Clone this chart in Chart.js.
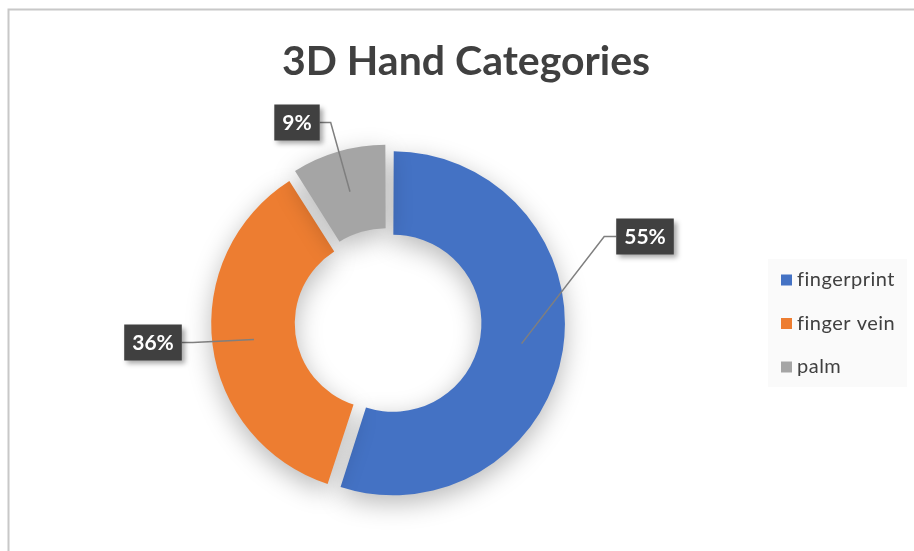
<!DOCTYPE html>
<html>
<head>
<meta charset="utf-8">
<title>3D Hand Categories</title>
<script src="https://cdn.jsdelivr.net/npm/chart.js@4.4.1/dist/chart.umd.min.js"></script>
<style>
    body { margin: 0; background: #ffffff; }
    #wrap { width: 914px; height: 551px; position: relative; }
</style>
</head>
<body>
<div id="wrap"><canvas id="handChart" width="914" height="551"></canvas></div>
<script>
// Chart data
const chartTitle = '3D Hand Categories';
const categories = ['fingerprint', 'finger vein', 'palm'];
const shares = [55, 36, 9];

// Styles
const sliceColors = ['#4472C4', '#ED7D31', '#A5A5A5'];
const sliceOffsets = [20, 32, 30];
// where each callout box sits, relative to the doughnut centre
const calloutBoxOffsets = [[257, -86], [-235, 20], [-91, -200]];
const textColor = '#404040';

// how far Chart.js v4 actually shifts an exploded arc
function arcShift(arc) {
    const offset = (arc.options.offset || 0) / 4;
    const fix = 1 - Math.sin(Math.min(Math.PI, arc.circumference || 0));
    return offset + offset * fix;
}

// Draws the frame, title, soft shadow, callouts and legend
const decorPlugin = {
    id: 'decor',
    beforeDraw(chart) {
        const ctx = chart.ctx;
        ctx.save();
        ctx.fillStyle = '#ffffff';
        ctx.fillRect(0, 0, chart.width, chart.height);
        // chart frame
        ctx.strokeStyle = '#c8c8c8';
        ctx.lineWidth = 2;
        ctx.beginPath();
        ctx.moveTo(8.5, chart.height);
        ctx.lineTo(8.5, 9.5);
        ctx.lineTo(chart.width, 9.5);
        ctx.stroke();
        // title
        ctx.fillStyle = textColor;
        ctx.font = 'bold 41px Lato';
        ctx.textAlign = 'center';
        ctx.textBaseline = 'alphabetic';
        ctx.fillText(chartTitle, 466, 75);
        ctx.restore();
    },
    beforeDatasetsDraw(chart) {
        const ctx = chart.ctx;
        ctx.save();
        ctx.shadowColor = 'rgba(0, 0, 0, 0.28)';
        ctx.shadowBlur = 26;
        ctx.shadowOffsetY = 8;
    },
    afterDatasetsDraw(chart) {
        const ctx = chart.ctx;
        ctx.restore();

        const meta = chart.getDatasetMeta(0);
        const total = shares.reduce((a, b) => a + b, 0);

        meta.data.forEach((arc, i) => {
            const p = arc.getProps(['x', 'y', 'startAngle', 'endAngle', 'innerRadius', 'outerRadius']);
            const mid = (p.startAngle + p.endAngle) / 2;
            const r = arcShift(arc) + (p.innerRadius + p.outerRadius) / 2;
            const ax = p.x + Math.cos(mid) * r;
            const ay = p.y + Math.sin(mid) * r;

            const text = Math.round(shares[i] / total * 100) + '%';
            ctx.save();
            ctx.font = 'bold 21px Lato';
            const w = ctx.measureText(text).width + 16;
            const h = 36;
            const bx = p.x + calloutBoxOffsets[i][0];
            const by = p.y + calloutBoxOffsets[i][1];

            // leader line: short horizontal stub then straight to the slice
            const leftSide = ax < bx;
            const ex = leftSide ? bx - w / 2 : bx + w / 2;
            const sx = leftSide ? ex - 12 : ex + 11;
            ctx.strokeStyle = '#7f7f7f';
            ctx.lineWidth = 1.5;
            ctx.beginPath();
            ctx.moveTo(ex, by);
            ctx.lineTo(sx, by);
            ctx.lineTo(ax, ay);
            ctx.stroke();

            // label box
            ctx.shadowColor = 'rgba(0, 0, 0, 0.35)';
            ctx.shadowBlur = 5;
            ctx.shadowOffsetX = 3;
            ctx.shadowOffsetY = 3;
            ctx.fillStyle = '#404040';
            ctx.fillRect(bx - w / 2, by - h / 2, w, h);
            ctx.shadowColor = 'transparent';
            ctx.fillStyle = '#ffffff';
            ctx.textAlign = 'center';
            ctx.textBaseline = 'middle';
            ctx.fillText(text, bx, by + 1);
            ctx.restore();
        });

        // legend
        ctx.save();
        ctx.fillStyle = '#fafafa';
        ctx.fillRect(768, 259, 139, 128);
        ctx.font = '20px Lato';
        ctx.letterSpacing = '0.5px'; // also keeps "fi" from joining
        ctx.textBaseline = 'middle';
        ctx.textAlign = 'left';
        chart.data.labels.forEach((label, i) => {
            const y = 280 + i * 43.5;
            ctx.fillStyle = chart.data.datasets[0].backgroundColor[i];
            ctx.fillRect(781, y - 5.5, 11, 11);
            ctx.fillStyle = textColor;
            ctx.fillText(label, 797, y);
        });
        ctx.restore();
    }
};

const ctx = document.getElementById('handChart').getContext('2d');
const handChart = new Chart(ctx, {
    type: 'doughnut',
    data: {
        labels: categories,
        datasets: [{
            data: shares,
            backgroundColor: sliceColors,
            offset: sliceOffsets,
            borderWidth: 0
        }]
    },
    options: {
        responsive: false,
        animation: false,
        devicePixelRatio: 1,
        radius: 167,
        cutout: '50%',
        layout: {
            padding: { left: 0, right: 138, top: 94, bottom: 0 }
        },
        plugins: {
            legend: { display: false },
            title: { display: false },
            tooltip: { enabled: false }
        }
    },
    plugins: [decorPlugin]
});
</script>
</body>
</html>
